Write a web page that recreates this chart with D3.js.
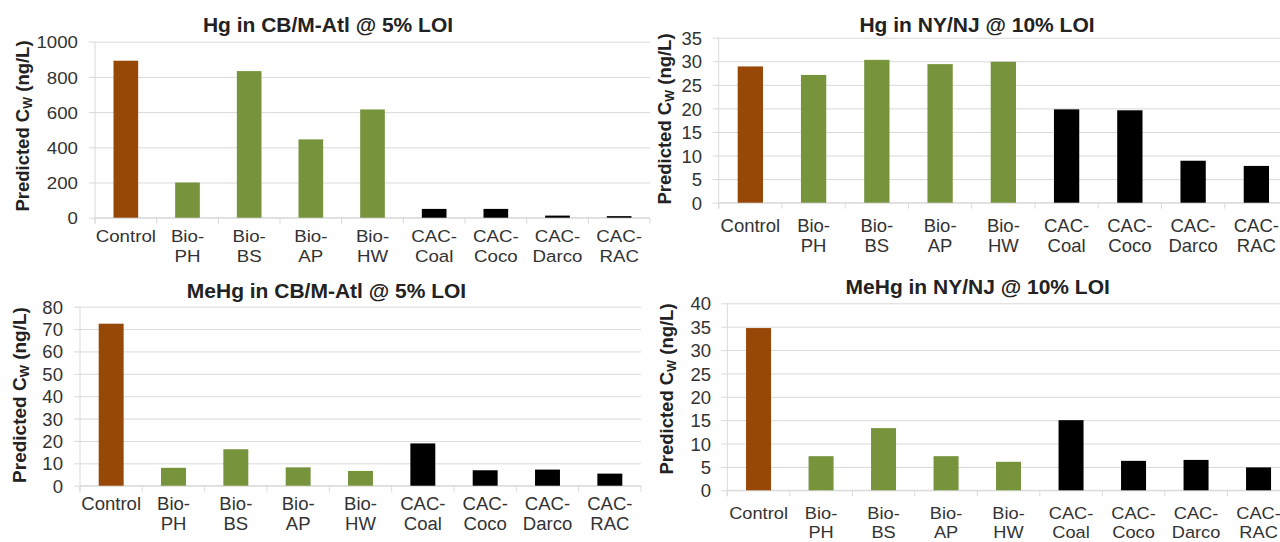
<!DOCTYPE html>
<html>
<head>
<meta charset="utf-8">
<script src="https://cdn.jsdelivr.net/npm/d3@7"></script>
<style>
  html, body { margin: 0; padding: 0; background: #ffffff; }
  svg { display: block; font-family: "Liberation Sans", Arial, sans-serif; }
</style>
</head>
<body>
<svg id="chart" width="1280" height="542"></svg>
<script>
// ---- data ----
const categories = ["Control", "Bio-PH", "Bio-BS", "Bio-AP", "Bio-HW", "CAC-Coal", "CAC-Coco", "CAC-Darco", "CAC-RAC"];

const hgCbAtl   = [892, 200, 833, 445, 615, 50, 50, 12, 9];
const hgNyNj    = [28.9, 27.1, 30.3, 29.4, 29.9, 19.8, 19.6, 8.9, 7.8];
const meHgCbAtl = [72.4, 8.0, 16.3, 8.2, 6.6, 18.9, 6.9, 7.2, 5.4];
const meHgNyNj  = [34.7, 7.3, 13.3, 7.3, 6.1, 15.0, 6.3, 6.5, 4.9];

const ticksHgCbAtl   = [0, 200, 400, 600, 800, 1000];
const ticksHgNyNj    = [0, 5, 10, 15, 20, 25, 30, 35];
const ticksMeHgCbAtl = [0, 10, 20, 30, 40, 50, 60, 70, 80];
const ticksMeHgNyNj  = [0, 5, 10, 15, 20, 25, 30, 35, 40];

const titles = [
  "Hg in CB/M-Atl @ 5% LOI",
  "Hg in NY/NJ @ 10% LOI",
  "MeHg in CB/M-Atl @ 5% LOI",
  "MeHg in NY/NJ @ 10% LOI"
];

// treatment group colours
const groupColor = { Control: "#974706", Bio: "#77933C", CAC: "#000000" };
const groupOf = c => c.startsWith("Bio") ? "Bio" : c.startsWith("CAC") ? "CAC" : "Control";

// ---- panel layout ----
const panels = [
  { title: titles[0], values: hgCbAtl, ticks: ticksHgCbAtl,
    x0: 95, x1: 650, yBase: 217.7, yTop: 41.7, fs: 17, sx: 1.1, catFs: 17, catSx: 1.1,
    labRight: 78, cat1: 24, cat2: 44, titleX: 328, titleY: 32, ytX: 29, ytY: 126, ytFs: 18.5 },
  { title: titles[1], values: hgNyNj, ticks: ticksHgNyNj,
    x0: 718.7, x1: 1288, yBase: 202.7, yTop: 37.7, fs: 18.5, sx: 1.0, catFs: 18.5, catSx: 1.0,
    labRight: 702, cat1: 29, cat2: 49, titleX: 977, titleY: 31.5, ytX: 671, ytY: 119, ytFs: 18.5 },
  { title: titles[2], values: meHgCbAtl, ticks: ticksMeHgCbAtl,
    x0: 80, x1: 641, yBase: 485.7, yTop: 306.7, fs: 18, sx: 1.03, catFs: 18, catSx: 1.03,
    labRight: 63, cat1: 24.3, cat2: 44.3, titleX: 326.5, titleY: 297.5, ytX: 25.5, ytY: 395, ytFs: 19 },
  { title: titles[3], values: meHgNyNj, ticks: ticksMeHgNyNj,
    x0: 727.3, x1: 1289.8, yBase: 490.3, yTop: 303.3, fs: 18.5, sx: 1.0, catFs: 17.2, catSx: 1.06,
    labRight: 711, cat1: 28.2, cat2: 47.5, titleX: 977.7, titleY: 293.5, ytX: 672.5, ytY: 389, ytFs: 18.5 }
];

const gridColor = "#D9D9D9";
const textColor = "#333333";

const svg = d3.select("#chart");
svg.append("rect").attr("width", 1280).attr("height", 542).attr("fill", "#ffffff");

panels.forEach(p => {
  const g = svg.append("g");
  const tickMax = d3.max(p.ticks);

  const x = d3.scaleBand()
    .domain(categories)
    .range([p.x0, p.x1])
    .paddingInner(0.6)
    .paddingOuter(0.3);

  const y = d3.scaleLinear()
    .domain([0, tickMax])
    .range([p.yBase, p.yTop]);

  // horizontal gridlines + value labels via the axis generator
  const plotW = p.x1 - p.x0;
  const yAxis = g.append("g")
    .attr("transform", `translate(${p.x0 - 6},0)`)
    .call(d3.axisLeft(y).tickValues(p.ticks).tickSize(-(plotW + 6)).tickFormat(d3.format("d")));
  yAxis.select(".domain").remove();
  yAxis.selectAll(".tick line").attr("stroke", gridColor).attr("stroke-width", 1);
  const pad = (p.x0 - 6) - p.labRight;
  yAxis.selectAll(".tick text")
    .attr("x", null)
    .attr("dy", "0.36em")
    .attr("transform", `translate(${-pad},0) scale(${p.sx},1)`)
    .attr("text-anchor", "end")
    .attr("fill", textColor)
    .style("font-size", p.fs + "px")
    .style("font-family", "'Liberation Sans', Arial, sans-serif");

  // vertical axis line and baseline
  g.append("line")
    .attr("x1", p.x0).attr("x2", p.x0)
    .attr("y1", y(tickMax)).attr("y2", p.yBase + 6)
    .attr("stroke", gridColor);
  g.append("line")
    .attr("x1", p.x0).attr("x2", p.x1)
    .attr("y1", p.yBase).attr("y2", p.yBase)
    .attr("stroke", gridColor);

  // category boundary ticks
  const bounds = d3.range(categories.length + 1).map(i => p.x0 + i * x.step());
  g.selectAll("line.cat-tick").data(bounds).join("line")
    .attr("class", "cat-tick")
    .attr("x1", d => d).attr("x2", d => d)
    .attr("y1", p.yBase).attr("y2", p.yBase + 6)
    .attr("stroke", gridColor);

  // bars
  g.selectAll("rect.bar").data(categories.map((c, i) => ({ c, v: p.values[i] }))).join("rect")
    .attr("class", "bar")
    .attr("x", d => x(d.c))
    .attr("width", x.bandwidth())
    .attr("y", d => y(d.v))
    .attr("height", d => y(0) - y(d.v))
    .attr("fill", d => groupColor[groupOf(d.c)]);

  // category labels, split after the hyphen
  categories.forEach(c => {
    const m = c.match(/^(.*-)(.*)$/);
    const lines = m ? [m[1], m[2]] : [c];
    const cx = x(c) + x.bandwidth() / 2;
    lines.forEach((ln, k) => {
      g.append("text")
        .attr("transform", `translate(${cx},${p.yBase + (k === 0 ? p.cat1 : p.cat2)}) scale(${p.catSx},1)`)
        .attr("text-anchor", "middle")
        .attr("fill", textColor)
        .style("font-size", p.catFs + "px")
        .text(ln);
    });
  });

  // panel title
  g.append("text")
    .attr("transform", `translate(${p.titleX},${p.titleY}) scale(1.05,1)`)
    .attr("text-anchor", "middle")
    .attr("fill", "#222222")
    .style("font-size", "20px")
    .style("font-weight", "bold")
    .text(p.title);

  // y-axis title with subscript W
  const yt = g.append("text")
    .attr("transform", `translate(${p.ytX},${p.ytY}) rotate(-90)`)
    .attr("text-anchor", "middle")
    .attr("fill", "#222222")
    .style("font-size", p.ytFs + "px")
    .style("font-weight", "bold");
  yt.append("tspan").text("Predicted C");
  yt.append("tspan").attr("dy", "0.25em").style("font-size", (p.ytFs * 0.68) + "px").text("W");
  yt.append("tspan").attr("dy", "-0.17em").text(" (ng/L)");
});
</script>
</body>
</html>
